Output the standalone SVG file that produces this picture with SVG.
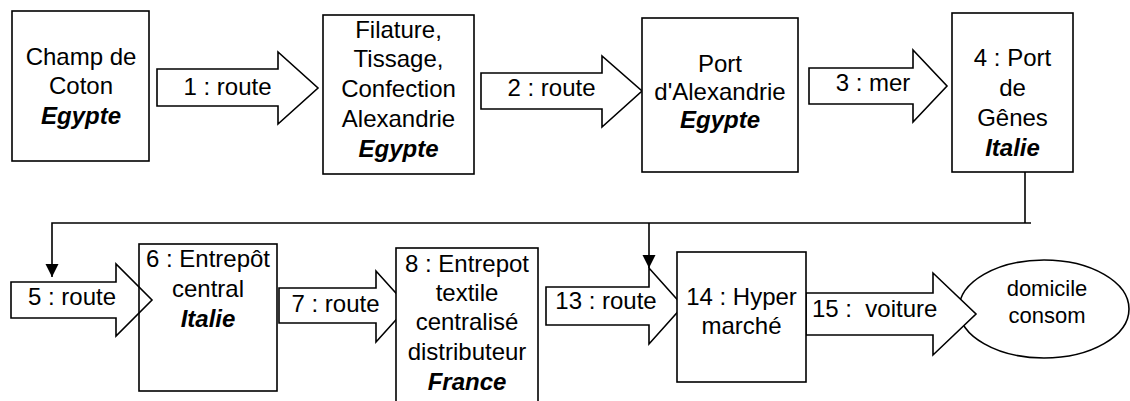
<svg xmlns="http://www.w3.org/2000/svg" width="1130" height="401" viewBox="0 0 1130 401">
<style>
.box{fill:#fff;stroke:#000;stroke-width:1.6}
.open{fill:none;stroke:#000;stroke-width:1.6}
.arr{fill:#fff;stroke:#000;stroke-width:1.6;stroke-linejoin:miter}
.ln{fill:none;stroke:#000;stroke-width:1.6}
text{font-family:"Liberation Sans",Arial,sans-serif;font-size:24px;fill:#000;text-anchor:middle}
.c{font-weight:bold;font-style:italic}
.sm{font-size:22px}
</style>
<defs>
<marker id="ah" markerUnits="userSpaceOnUse" markerWidth="14" markerHeight="14" refX="13" refY="6.5" orient="auto">
<path d="M0,0 L13,6.5 L0,13 z" fill="#000"/>
</marker>
</defs>
<rect width="1130" height="401" fill="#fff"/>

<g id="node-domicile">
<ellipse class="box" cx="1044" cy="309" rx="85" ry="49"/>
<text class="sm" x="1047" y="296">domicile</text>
<text class="sm" x="1047" y="323">consom</text>
</g>

<g id="connectors">
<polyline class="ln" points="1025,172 1025,223"/>
<polyline class="ln" points="1031,223 52,223 52,277" marker-end="url(#ah)"/>
<polyline class="ln" points="649,223 649,268" marker-end="url(#ah)"/>
<g id="arrow1">
<polygon class="arr" points="157,69 278,69 278,52 318,88 278,124 278,106 157,106"/>
<text x="227.5" y="95">1 : route</text>
</g>
<g id="arrow2">
<polygon class="arr" points="481,73 602,73 602,56 642,91 602,127 602,109 481,109"/>
<text x="551.5" y="96">2 : route</text>
</g>
<g id="arrow3">
<polygon class="arr" points="809,68 913,68 913,50 947,86 913,122 913,104 809,104"/>
<text x="873" y="91">3 : mer</text>
</g>
<g id="arrow5">
<polygon class="arr" points="11,282 116,282 116,264 152,300 116,336 116,318 11,318"/>
<text x="72" y="305">5 : route</text>
</g>
<g id="arrow7">
<polygon class="arr" points="279,288 376,288 376,271 408,306.5 376,342 376,323 279,323"/>
<text x="335.5" y="312">7 : route</text>
</g>
<g id="arrow13">
<polygon class="arr" points="546,287 649,287 649,268 683,306 649,344 649,325 546,325"/>
<text x="606" y="309">13 : route</text>
</g>
<g id="arrow15">
<polygon class="arr" points="806,293 933,293 933,273 976,314 933,355 933,335 806,335"/>
<text x="812" y="317" style="text-anchor:start" xml:space="preserve">15 :  voiture</text>
</g>
</g>

<g id="node-champ">
<rect class="box" x="12" y="11" width="137" height="150"/>
<text x="81" y="65">Champ de</text>
<text x="81" y="94">Coton</text>
<text class="c" x="81" y="124">Egypte</text>
</g>

<g id="node-filature">
<rect class="box" x="323" y="15" width="151" height="159"/>
<text x="398.5" y="38">Filature,</text>
<text x="398.5" y="67">Tissage,</text>
<text x="398.5" y="97">Confection</text>
<text x="398.5" y="127">Alexandrie</text>
<text class="c" x="398.5" y="157">Egypte</text>
</g>

<g id="node-port-alexandrie">
<rect class="box" x="642" y="18" width="156" height="154"/>
<text x="720" y="72">Port</text>
<text x="720" y="100">d'Alexandrie</text>
<text class="c" x="720" y="128">Egypte</text>
</g>

<g id="node-port-genes">
<rect class="box" x="952" y="13" width="121" height="159"/>
<text x="1012.5" y="66">4 : Port</text>
<text x="1012.5" y="96">de</text>
<text x="1012.5" y="126">Gênes</text>
<text class="c" x="1012.5" y="156">Italie</text>
</g>

<g id="node-entrepot-central">
<rect class="open" x="139" y="244" width="138" height="147"/>
<text x="208" y="267">6 : Entrepôt</text>
<text x="208" y="297">central</text>
<text class="c" x="208" y="327">Italie</text>
</g>

<g id="node-entrepot-textile">
<rect class="box" x="396" y="248" width="142" height="165"/>
<text x="467" y="272">8 : Entrepot</text>
<text x="467" y="301">textile</text>
<text x="467" y="330">centralisé</text>
<text x="467" y="360">distributeur</text>
<text class="c" x="467" y="390">France</text>
</g>

<g id="node-hypermarche">
<rect class="box" x="677" y="252" width="129" height="130"/>
<text x="741.5" y="305">14 : Hyper</text>
<text x="741.5" y="334">marché</text>
</g>
</svg>
